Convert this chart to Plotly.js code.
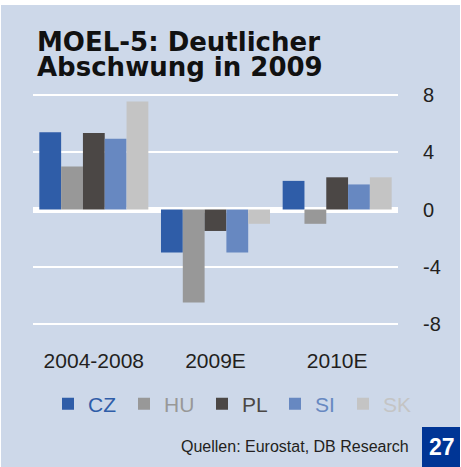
<!DOCTYPE html>
<html>
<head>
<meta charset="utf-8">
<script src="https://cdn.plot.ly/plotly-3.0.1.min.js"></script>
<style>
  html, body { margin: 0; padding: 0; background: #ffffff; }
  #chart { position: absolute; left: 1px; top: 5px; width: 459px; height: 462px; }
</style>
</head>
<body>
<div id="chart"></div>
<script>
// ---- data ----
const categories = ["2004-2008", "2009E", "2010E"];
const seriesNames = ["CZ", "HU", "PL", "SI", "SK"];
const CZ = [5.4, -3.0, 2.0];
const HU = [3.0, -6.5, -1.0];
const PL = [5.35, -1.5, 2.25];
const SI = [4.95, -3.0, 1.75];
const SK = [7.55, -1.0, 2.25];
const yTicks = [-8, -4, 0, 4, 8];
const titleLines = ["MOEL-5: Deutlicher", "Abschwung in 2009"];
const sourceText = "Quellen: Eurostat, DB Research";
const pageNumber = "27";

// ---- style ----
const colors = ["#2f5da8", "#989898", "#4b4745", "#6788c1", "#c4c4c4"];
const bg = "#cdd8e9";
const textColor = "#231f20";
const values = [CZ, HU, PL, SI, SK];
const legendIds = ["legend", "legend2", "legend3", "legend4", "legend5"];
const legendLeft = [47, 123, 201, 274, 342]; // div px, one legend per series

const traces = seriesNames.map((n, i) => ({
  type: "bar",
  name: '<span style="color:' + colors[i] + '">' + n + '</span>',
  legend: legendIds[i],
  x: categories,
  y: values[i],
  marker: { color: colors[i], line: { width: 0 } },
  hoverinfo: "skip"
}));

// plot area: top 88, bottom 321 (div px); 8 -> 90, -8 -> 319
const T = 88, B = 321, Hh = B - T;
const py = (ydiv) => (B - ydiv) / Hh;
const px = (xdiv) => (xdiv - 32) / 365;

const layout = {
  width: 459, height: 462,
  margin: { l: 32, r: 62, t: T, b: 462 - B, pad: 0 },
  paper_bgcolor: bg, plot_bgcolor: bg,
  barmode: "group", bargap: 0.104, bargroupgap: 0,
  showlegend: true,
  xaxis: {
    type: "category", showgrid: false, zeroline: false, showline: false,
    ticks: "outside", ticklen: 16, tickcolor: "rgba(0,0,0,0)",
    tickfont: { family: "Liberation Sans, Arial, sans-serif", size: 21, color: textColor },
    fixedrange: true
  },
  yaxis: {
    side: "right", range: [-8.14, 8.14], tickvals: yTicks, ticktext: yTicks.map(String),
    showgrid: true, gridcolor: "#ffffff", gridwidth: 2,
    zeroline: true, zerolinecolor: "#ffffff", zerolinewidth: 6,
    showline: false, ticks: "outside", ticklen: 20, tickcolor: "rgba(0,0,0,0)",
    tickfont: { family: "Liberation Sans, Arial, sans-serif", size: 20, color: textColor },
    fixedrange: true
  },
  annotations: [
    { text: titleLines[0], xref: "paper", yref: "paper", x: px(34), y: py(37), xanchor: "left", yanchor: "middle",
      showarrow: false, font: { family: "DejaVu Sans, sans-serif", size: 26, weight: "bold", color: "#111111" } },
    { text: titleLines[1], xref: "paper", yref: "paper", x: px(34), y: py(62), xanchor: "left", yanchor: "middle",
      showarrow: false, font: { family: "DejaVu Sans, sans-serif", size: 26, weight: "bold", color: "#111111" } },
    { text: sourceText, xref: "paper", yref: "paper", x: px(410), y: py(441), xanchor: "right", yanchor: "middle",
      showarrow: false, font: { family: "Liberation Sans, Arial, sans-serif", size: 16, color: textColor } },
    { text: "<b>" + pageNumber + "</b>", xref: "paper", yref: "paper", x: px(441), y: py(442), xanchor: "center", yanchor: "middle",
      showarrow: false, font: { family: "Liberation Sans, Arial, sans-serif", size: 23, color: "#ffffff" } }
  ],
  shapes: [
    { type: "rect", xref: "paper", yref: "paper", x0: px(421), x1: px(470), y0: py(422), y1: py(470),
      fillcolor: "#003595", line: { width: 0 }, layer: "below" }
  ]
};

legendIds.forEach((id, i) => {
  layout[id] = {
    orientation: "h", x: px(legendLeft[i]), xanchor: "left", y: py(399), yanchor: "middle",
    font: { family: "Liberation Sans, Arial, sans-serif", size: 21, color: textColor },
    bgcolor: "rgba(0,0,0,0)", borderwidth: 0
  };
});

Plotly.newPlot("chart", traces, layout, { displayModeBar: false, staticPlot: true });
</script>
</body>
</html>
